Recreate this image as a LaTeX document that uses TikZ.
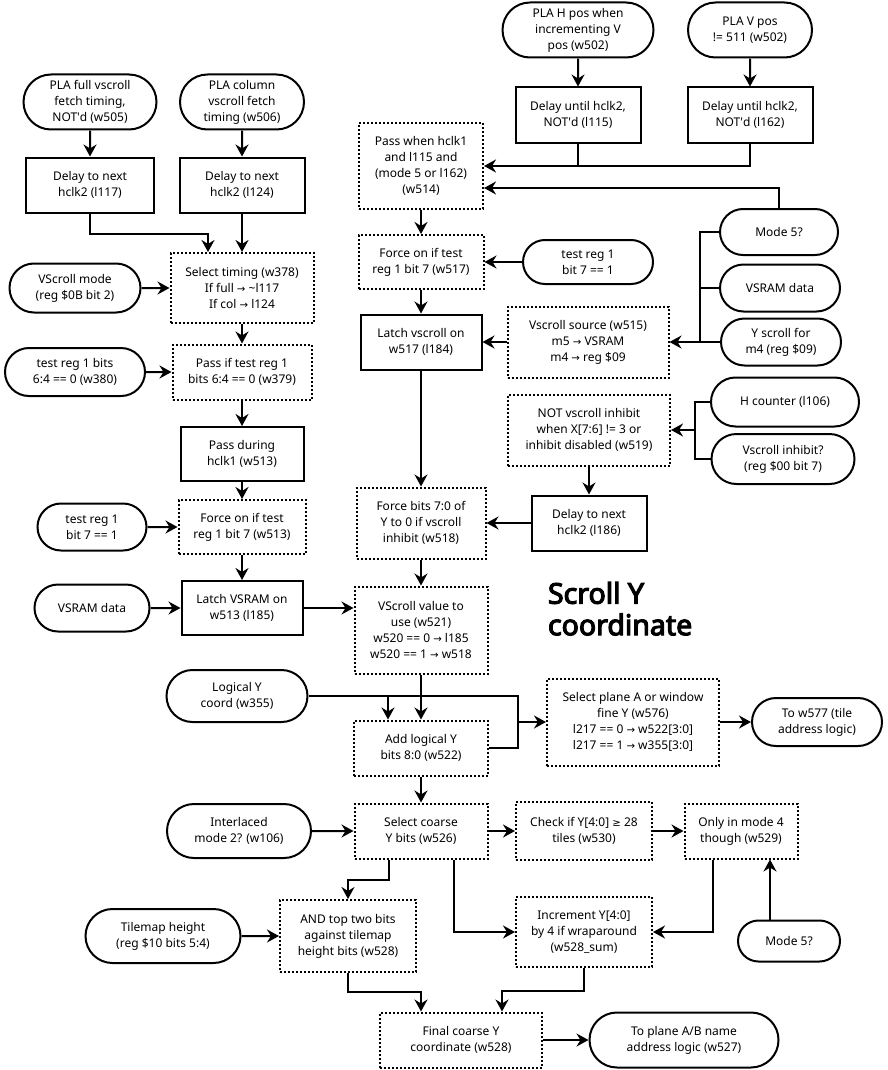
\documentclass[tikz,border=0pt]{standalone}
\usepackage{fontspec}
\setmainfont{Noto Sans}
\newfontfamily\titlefont{Noto Sans}[AutoFakeBold=4]
\newfontfamily\symfont[Scale=0.85]{DejaVu Sans}
\newcommand\rarr{{\symfont →}}
\newcommand\gesym{{\symfont ≥}}
\usetikzlibrary{arrows.meta,shapes.misc}

\begin{document}
\begin{tikzpicture}[x=1pt,y=-1pt,->,>={Stealth[length=12pt,width=13pt,inset=4pt]},
  line width=2pt,
  every node/.style={align=center,font=\fontsize{12}{16}\selectfont,inner sep=2pt},
  term node/.style={rounded rectangle,draw},
  proc node/.style={rectangle,draw},
  cond node/.style={rectangle,draw,dotted}]

\useasboundingbox (0,0) rectangle (887,1070);

% left column
\node[term node,minimum width=137pt,minimum height=55pt] (PF) at (90,102) {PLA full vscroll\\fetch timing,\\NOT\textquotesingle d (w505)};
\node[term node,minimum width=128pt,minimum height=55pt] (PC) at (242,102) {PLA column\\vscroll fetch\\timing (w506)};
\node[proc node,minimum width=128pt,minimum height=55pt] (D117) at (90,185) {Delay to next\\hclk2 (l117)};
\node[proc node,minimum width=125pt,minimum height=55pt] (D124) at (242,185) {Delay to next\\hclk2 (l124)};
\node[cond node,minimum width=143pt,minimum height=70pt] (ST) at (242,288) {Select timing (w378)\\If full \rarr\ \textasciitilde l117\\If col \rarr\ l124};
\node[term node,minimum width=135pt,minimum height=49pt] (VM) at (75,288) {VScroll mode\\(reg \$0B bit 2)};
\node[term node,minimum width=144pt,minimum height=48pt] (T380) at (75,372) {test reg 1 bits\\6:4 == 0 (w380)};
\node[cond node,minimum width=139pt,minimum height=55pt] (P379) at (242,372) {Pass if test reg 1\\bits 6:4 == 0 (w379)};
\node[proc node,minimum width=123pt,minimum height=54pt] (P513) at (242,454) {Pass during\\hclk1 (w513)};
\node[term node,minimum width=113pt,minimum height=47pt] (T7L) at (92,527) {test reg 1\\bit 7 == 1};
\node[cond node,minimum width=127pt,minimum height=54pt] (F513) at (242,527) {Force on if test\\reg 1 bit 7 (w513)};
\node[term node,minimum width=119pt,minimum height=47pt] (VDL) at (92,608) {VSRAM data};
\node[proc node,minimum width=121pt,minimum height=54pt] (L185) at (242,608) {Latch VSRAM on\\w513 (l185)};

% middle and right, top part
\node[term node,minimum width=155pt,minimum height=55pt] (PH) at (578,30) {PLA H pos when\\incrementing V\\pos (w502)};
\node[term node,minimum width=128pt,minimum height=55pt] (PV) at (750,30) {PLA V pos\\!= 511 (w502)};
\node[proc node,minimum width=125pt,minimum height=55pt] (D115) at (578,115) {Delay until hclk2,\\NOT\textquotesingle d (l115)};
\node[proc node,minimum width=125pt,minimum height=55pt] (D162) at (750,115) {Delay until hclk2,\\NOT\textquotesingle d (l162)};
\node[cond node,minimum width=124pt,minimum height=86pt] (P514) at (421,166) {Pass when hclk1\\and l115 and\\(mode 5 or l162)\\(w514)};
\node[cond node,minimum width=125pt,minimum height=54pt] (F517) at (421,262) {Force on if test\\reg 1 bit 7 (w517)};
\node[term node,minimum width=134pt,minimum height=44pt] (T7R) at (588,262) {test reg 1\\bit 7 == 1};
\node[term node,minimum width=122pt,minimum height=46pt] (M5) at (779,232) {Mode 5?};
\node[term node,minimum width=124pt,minimum height=47pt] (VDR) at (780,288) {VSRAM data};
\node[term node,minimum width=124pt,minimum height=47pt] (YS) at (781,342) {Y scroll for\\m4 (reg \$09)};
\node[proc node,minimum width=121pt,minimum height=55pt] (L184) at (421,342) {Latch vscroll on\\w517 (l184)};
\node[cond node,minimum width=161pt,minimum height=71pt] (VSS) at (588,342) {Vscroll source (w515)\\m5 \rarr\ VSRAM\\m4 \rarr\ reg \$09};
\node[cond node,minimum width=162pt,minimum height=71pt] (NVI) at (589,430) {NOT vscroll inhibit\\when X[7:6] != 3 or\\inhibit disabled (w519)};
\node[term node,minimum width=152pt,minimum height=49pt] (HC) at (785,402) {H counter (l106)};
\node[term node,minimum width=147pt,minimum height=50pt] (VI) at (783,459) {Vscroll inhibit?\\(reg \$00 bit 7)};
\node[proc node,minimum width=115pt,minimum height=55pt] (D186) at (589,523) {Delay to next\\hclk2 (l186)};
\node[cond node,minimum width=129pt,minimum height=71pt] (F518) at (421,523) {Force bits 7:0 of\\Y to 0 if vscroll\\inhibit (w518)};
\node[cond node,minimum width=133pt,minimum height=87pt] (V521) at (421,630) {VScroll value to\\use (w521)\\w520 == 0 \rarr\ l185\\w520 == 1 \rarr\ w518};
\node[anchor=north west,align=left,inner sep=0pt,font=\titlefont\fontsize{28.5}{31.5}\selectfont\bfseries] (TT) at (547,581) {Scroll Y\\coordinate};

% lower part
\node[term node,minimum width=145pt,minimum height=52pt] (LY) at (237,696) {Logical Y\\coord (w355)};
\node[cond node,minimum width=134pt,minimum height=55pt] (ALY) at (421,748) {Add logical Y\\bits 8:0 (w522)};
\node[cond node,minimum width=172pt,minimum height=87pt] (SPA) at (633,722) {Select plane A or window\\fine Y (w576)\\l217 == 0 \rarr\ w522[3:0]\\l217 == 1 \rarr\ w355[3:0]};
\node[term node,minimum width=134pt,minimum height=48pt] (TW) at (817,722) {To w577 (tile\\address logic)};
\node[term node,minimum width=148pt,minimum height=54pt] (IM) at (239,831) {Interlaced\\mode 2? (w106)};
\node[cond node,minimum width=133pt,minimum height=55pt] (SCY) at (421,831) {Select coarse\\Y bits (w526)};
\node[cond node,minimum width=136pt,minimum height=58pt] (CHK) at (584,831) {Check if Y[4:0] \gesym\ 28\\tiles (w530)};
\node[cond node,minimum width=113pt,minimum height=55pt] (OM4) at (741,831) {Only in mode 4\\though (w529)};
\node[cond node,minimum width=136pt,minimum height=72pt] (AND) at (348,936) {AND top two bits\\against tilemap\\height bits (w528)};
\node[term node,minimum width=159pt,minimum height=54pt] (TH) at (163,936) {Tilemap height\\(reg \$10 bits 5:4)};
\node[cond node,minimum width=136pt,minimum height=70pt] (INC) at (584,932) {Increment Y[4:0]\\by 4 if wraparound\\(w528\_sum)};
\node[term node,minimum width=106pt,minimum height=41pt] (M5B) at (789,941) {Mode 5?};
\node[cond node,minimum width=162pt,minimum height=55pt] (FCY) at (461,1040) {Final coarse Y\\coordinate (w528)};
\node[term node,minimum width=193pt,minimum height=55pt] (TPA) at (684,1040) {To plane A/B name\\address logic (w527)};

\path
(PF) edge (D117)
(PC) edge (D124)
(D124) edge (ST)
(VM) edge (ST)
(ST) edge (P379)
(T380) edge (P379)
(P379) edge (P513)
(P513) edge (F513)
(T7L) edge (F513)
(F513) edge (L185)
(VDL) edge (L185)
(PH) edge (D115)
(PV) edge (D162)
(P514) edge (F517)
(T7R) edge (F517)
(F517) edge (L184)
(YS) edge (VSS)
(VSS) edge (L184)
(L184) edge (F518)
(NVI) edge (D186)
(D186) edge (F518)
(F518) edge (V521)
(V521) edge (ALY)
(SPA) edge (TW)
(ALY) edge (SCY)
(IM) edge (SCY)
(SCY) edge (CHK)
(CHK) edge (OM4)
(TH) edge (AND)
(FCY) edge (TPA);

\draw (D117.south) -- ++(0,20) -| ([xshift=-34pt]ST.north);
\draw (L185.east) -- (L185.east -| V521.west);
\draw (D115.south) |- (P514.east);
\draw[-] (D162.south) |- (D115.south |- P514.east);
\draw (M5.north) |- ([yshift=-22pt]P514.east);
\draw[-] (M5.west) -- ++(-19,0) |- (YS.west);
\draw[-] (VDR.west) -- ++(-19,0);
\draw[-] (HC.west) -- ++(-15,0) |- (VI.west);
\draw ([xshift=-15pt]HC.west |- NVI.east) -- (NVI.east);
\draw[-] (LY.east) -| ([xshift=29pt]ALY.east) -- (ALY.east);
\draw ([xshift=29pt]ALY.east |- SPA.west) -- (SPA.west);
\draw ([xshift=-33pt]ALY.north |- LY.east) -- ([xshift=-33pt]ALY.north);
\draw ([xshift=-32pt]SCY.south) -- ++(0,20) -| (AND.north);
\draw ([xshift=33pt]SCY.south) |- (INC.west);
\draw ([xshift=-28pt]OM4.south) |- (INC.east);
\draw ([xshift=29pt]OM4.south |- M5B.north) -- ([xshift=29pt]OM4.south);
\draw (AND.south) -- ++(0,19) -| ([xshift=-40pt]FCY.north);
\draw (INC.south) -- ++(0,23) -| ([xshift=41pt]FCY.north);

\end{tikzpicture}
\end{document}
